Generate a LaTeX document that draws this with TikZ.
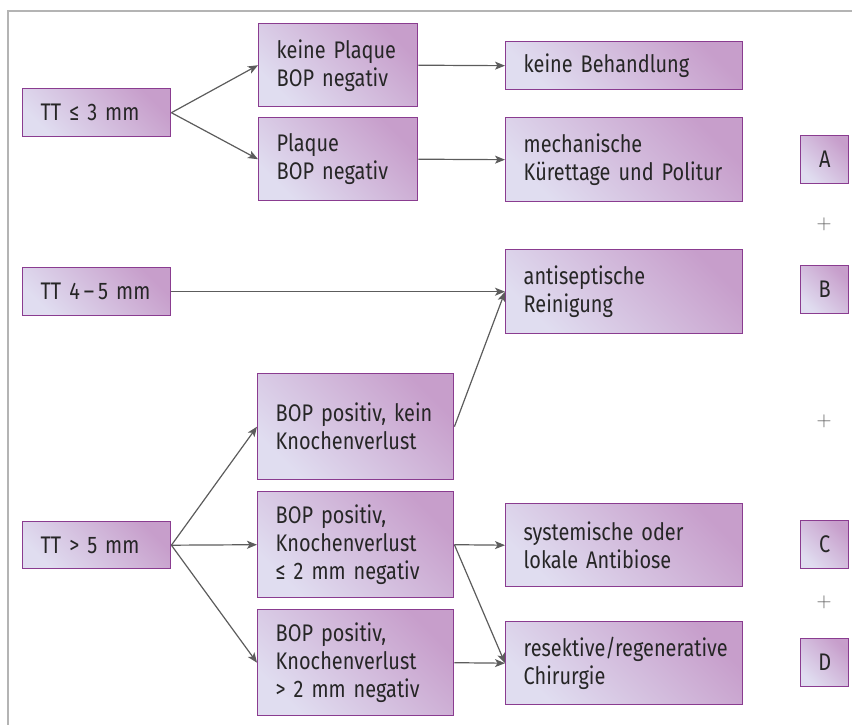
\documentclass[tikz,border=0pt]{standalone}
\usepackage{fontspec}
\setmainfont{Fira Sans}[FakeStretch=0.83]
\usepackage{tikz}
\usetikzlibrary{arrows.meta,positioning}
\definecolor{boxlight}{HTML}{E0DDF0}
\definecolor{boxdark}{HTML}{C79ECB}
\definecolor{boxline}{HTML}{8A3C90}
\definecolor{arrowgray}{HTML}{5C5C5C}
\definecolor{textgray}{HTML}{262626}
\definecolor{framegray}{HTML}{B4B4B4}

\begin{document}
\begin{tikzpicture}[x=1pt,y=-1pt,
    box/.style={draw=boxline, line width=1.4pt, top color=boxdark, bottom color=boxlight,
        shading angle=-45, text=textgray, align=left, anchor=north west,
        inner xsep=18pt, inner ysep=0pt, font=\fontsize{24}{28}\selectfont},
    letter/.style={box, align=center, inner xsep=0pt, minimum width=48pt, minimum height=48pt},
    plus/.style={text=arrowgray, font=\fontsize{22}{22}\selectfont},
    link/.style={arrowgray, line width=1.2pt, -{Stealth[length=10pt,width=8pt,inset=2.5pt]}}]

    \useasboundingbox (0,0) rectangle (852,725);

    % Frame
    \draw[framegray, line width=1.5pt] (8,725) -- (8,11) -- (852,11);

    % Pocket depths
    \node[box, text width=112pt, minimum height=48pt] (tt3) at (22,88) {TT ≤ 3 mm};
    \node[box, text width=112pt, minimum height=48pt] (tt45) at (22,267) {TT 4\,–\,5 mm};
    \node[box, text width=112pt, minimum height=47pt] (tt5) at (22,521) {TT > 5 mm};

    % Findings
    \node[box, text width=123pt, minimum height=83pt] (noplaque) at (258,23) {keine Plaque\\BOP negativ};
    \node[box, text width=123pt, minimum height=83pt] (plaque) at (258,117) {Plaque\\BOP negativ};
    \node[box, text width=160pt, minimum height=106pt] (bopkein) at (257,373) {BOP positiv, kein\\Knochenverlust};
    \node[box, text width=160pt, minimum height=106pt] (bopsmall) at (257,491) {BOP positiv,\\Knochenverlust\\≤ 2 mm negativ};
    \node[box, text width=160pt, minimum height=106pt] (boplarge) at (257,609) {BOP positiv,\\Knochenverlust\\> 2 mm negativ};

    % Treatments
    \node[box, text width=201pt, minimum height=48pt] (nobeh) at (505,41) {keine Behandlung};
    \node[box, text width=201pt, minimum height=84pt] (mech) at (505,117) {mechanische\\Kürettage und Politur};
    \node[box, text width=201pt, minimum height=84pt] (anti) at (505,249) {antiseptische\\Reinigung};
    \node[box, text width=201pt, minimum height=83pt] (syst) at (505,503) {systemische oder\\lokale Antibiose};
    \node[box, text width=201pt, minimum height=83pt] (resekt) at (505,621) {resektive/regenerative\\Chirurgie};

    % Protocol steps
    \node[letter] (stepA) at (800,135) {A};
    \node[letter] (stepB) at (800,265) {B};
    \node[letter] (stepC) at (800,520) {C};
    \node[letter] (stepD) at (800,638) {D};
    \node[plus] (plusAB) at (824,224) {$+$};
    \node[plus] (plusBC) at (824,421) {$+$};
    \node[plus] (plusCD) at (824,602) {$+$};

    % Arrows
    \draw[link] (tt3.east) -- (noplaque.west);
    \draw[link] (tt3.east) -- (plaque.west);
    \draw[link] (noplaque.east) -- (nobeh.west);
    \draw[link] (plaque.east) -- (mech.west);
    \draw[link] (tt45.east) -- (anti.west);
    \draw[link] (bopkein.east) -- (anti.west);
    \foreach \n in {bopkein,bopsmall,boplarge} {
        \draw[link] (tt5.east) -- (\n.west);
    }
    \draw[link] (bopsmall.east) -- (syst.west);
    \draw[link] (bopsmall.east) -- (resekt.west);
    \draw[link] (boplarge.east) -- (resekt.west);

\end{tikzpicture}
\end{document}
